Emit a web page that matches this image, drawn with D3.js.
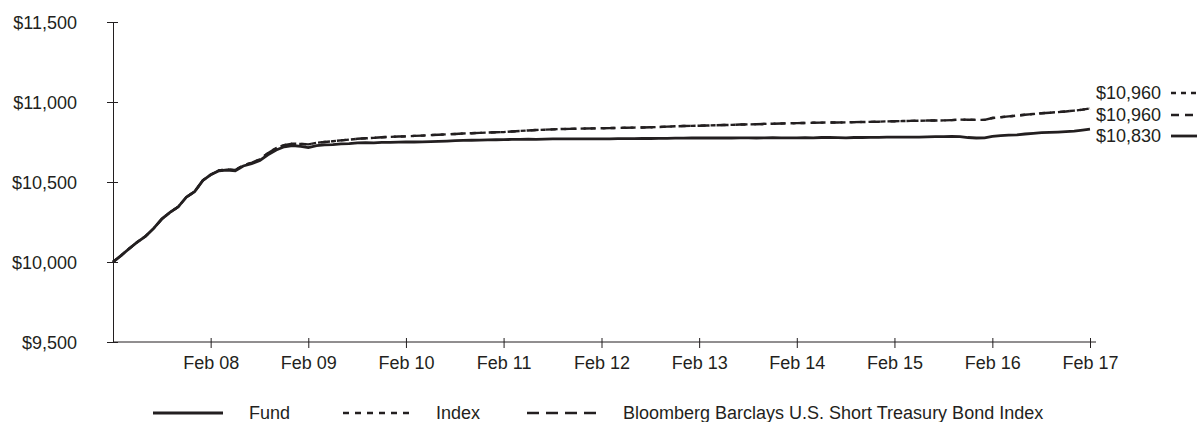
<!DOCTYPE html>
<html>
<head>
<meta charset="utf-8">
<script src="https://cdn.jsdelivr.net/npm/d3@7"></script>
<style>
  body { margin: 0; background: #fff; }
  svg { font-family: "Liberation Sans", Arial, sans-serif; }
  .axis text { font-size: 18px; fill: #231f20; font-family: "Liberation Sans", Arial, sans-serif; }
  .axis line, .axis path { stroke: #231f20; }
</style>
</head>
<body>
<svg id="chart" width="1197" height="422"></svg>
<script>
// month-end values, first point = start of the period
var fundValues = [
  10000, 10040, 10083, 10125, 10160, 10210, 10270, 10310, 10345, 10405, 10440, 10510,
  10545, 10570, 10575, 10570, 10600, 10615, 10635, 10670, 10700, 10720, 10728, 10722,
  10715, 10728, 10732, 10734, 10738, 10740, 10745, 10746, 10744, 10748, 10748, 10749,
  10750, 10750, 10751, 10752, 10754, 10756, 10758, 10760, 10761, 10762, 10763, 10764,
  10765, 10766, 10766, 10768, 10767, 10768, 10769, 10769, 10769, 10770, 10770, 10770,
  10770, 10770, 10771, 10771, 10771, 10772, 10772, 10773, 10773, 10774, 10774, 10775,
  10775, 10775, 10775, 10776, 10775, 10776, 10776, 10775, 10776, 10777, 10776, 10776,
  10776, 10777, 10776, 10778, 10778, 10777, 10776, 10778, 10778, 10779, 10779, 10780,
  10780, 10780, 10781, 10781, 10782, 10783, 10784, 10785, 10783, 10778, 10775, 10776,
  10785, 10790, 10793, 10795, 10800, 10804, 10808, 10810, 10812, 10815, 10818, 10824,
  10830
];
var indexValues = [
  10000, 10040, 10083, 10125, 10160, 10210, 10270, 10310, 10345, 10405, 10440, 10510,
  10545, 10572, 10578, 10575, 10604, 10620, 10642, 10680, 10712, 10730, 10740, 10738,
  10735, 10745, 10750, 10755, 10760, 10765, 10770, 10773, 10776, 10780, 10782, 10784,
  10785, 10788, 10790, 10793, 10795, 10798, 10800, 10803, 10805, 10807, 10809, 10811,
  10812, 10816, 10819, 10822, 10825, 10827, 10829, 10831, 10832, 10833, 10834, 10835,
  10836, 10837, 10838, 10839, 10840, 10841, 10842, 10844, 10846, 10848, 10850, 10851,
  10852, 10853, 10855, 10856, 10857, 10859, 10860, 10861, 10863, 10864, 10866, 10867,
  10868, 10869, 10870, 10871, 10872, 10872, 10873, 10874, 10875, 10876, 10877, 10879,
  10880, 10881, 10882, 10883, 10884, 10884, 10885, 10887, 10890, 10889, 10888, 10888,
  10900, 10905, 10910, 10915, 10920, 10925, 10930, 10933, 10937, 10941, 10946, 10952,
  10960
];
var bloombergValues = [
  10000, 10040, 10083, 10125, 10160, 10210, 10270, 10310, 10345, 10405, 10440, 10510,
  10545, 10572, 10578, 10575, 10604, 10620, 10642, 10680, 10712, 10730, 10740, 10738,
  10735, 10745, 10750, 10755, 10760, 10765, 10770, 10773, 10776, 10780, 10782, 10784,
  10785, 10788, 10790, 10793, 10795, 10798, 10800, 10803, 10805, 10807, 10809, 10811,
  10812, 10816, 10819, 10822, 10825, 10827, 10829, 10831, 10832, 10833, 10834, 10835,
  10836, 10837, 10838, 10839, 10840, 10841, 10842, 10844, 10846, 10848, 10850, 10851,
  10852, 10853, 10855, 10856, 10857, 10859, 10860, 10861, 10863, 10864, 10866, 10867,
  10868, 10869, 10870, 10871, 10872, 10872, 10873, 10874, 10875, 10876, 10877, 10879,
  10880, 10881, 10882, 10883, 10884, 10884, 10885, 10887, 10890, 10889, 10888, 10888,
  10900, 10905, 10910, 10915, 10920, 10925, 10930, 10933, 10937, 10941, 10946, 10952,
  10960
];
var xTickLabels = ["Feb 08", "Feb 09", "Feb 10", "Feb 11", "Feb 12", "Feb 13", "Feb 14", "Feb 15", "Feb 16", "Feb 17"];
var yTicks = [9500, 10000, 10500, 11000, 11500];
var seriesNames = ["Fund", "Index", "Bloomberg Barclays U.S. Short Treasury Bond Index"];
var endLabels = ["$10,960", "$10,960", "$10,830"];

var startDate = new Date(2007, 2, 1);
// month-end dates after the start
var dates = [startDate].concat(d3.timeMonth.range(new Date(2007, 3, 1), new Date(2017, 2, 2)).map(function (d) {
  return d3.timeDay.offset(d, -1);
}));

var ink = "#231f20";
var svg = d3.select("#chart");

var x = d3.scaleTime().domain([startDate, dates[dates.length - 1]]).range([113, 1090]);
var y = d3.scaleLinear().domain([9500, 11500]).range([342, 22]);

var tickDates = dates.filter(function (d) { return d.getMonth() === 1; });

// axes
var yAxis = svg.append("g")
  .attr("class", "axis")
  .attr("transform", "translate(113,0)")
  .call(d3.axisLeft(y).tickValues(yTicks).tickSize(6).tickSizeOuter(0).tickPadding(30)
    .tickFormat(function (d) { return "$" + d3.format(",")(d); }));
yAxis.selectAll(".tick line").attr("x1", 5);
yAxis.selectAll(".tick text").attr("dy", "0.35em");

var xAxis = svg.append("g")
  .attr("class", "axis")
  .attr("transform", "translate(0,342)")
  .call(d3.axisBottom(x).tickValues(tickDates).tickSize(6).tickSizeOuter(0).tickPadding(8)
    .tickFormat(function (d, i) { return xTickLabels[i]; }));
xAxis.select(".domain").attr("d", "M113,0H1096");
xAxis.selectAll(".tick line").attr("y1", -4);
xAxis.selectAll(".tick text").attr("dy", "0.71em");

// lines
var series = [
  { name: seriesNames[0], values: fundValues, dash: null, width: 2.8 },
  { name: seriesNames[1], values: indexValues, dash: "5,5", width: 2.4 },
  { name: seriesNames[2], values: bloombergValues, dash: "12,7", width: 2.4 }
];

var line = d3.line()
  .x(function (d, i) { return x(dates[i]); })
  .y(function (d) { return y(d); });

svg.selectAll(".series")
  .data(series.slice().reverse())
  .enter().append("path")
  .attr("class", "series")
  .attr("d", function (d) { return line(d.values); })
  .attr("fill", "none")
  .attr("stroke", ink)
  .attr("stroke-width", function (d) { return d.width; })
  .attr("stroke-dasharray", function (d) { return d.dash; });

// end-of-line value labels
var endOrder = [1, 2, 0];
var endY = [93, 115, 136];
var endDash = ["5,5", "8,6", null];
var endGroup = svg.append("g");
endOrder.forEach(function (si, k) {
  var s = series[si];
  endGroup.append("text")
    .attr("x", 1096)
    .attr("y", endY[k])
    .attr("dy", "0.35em")
    .attr("font-size", 18)
    .attr("fill", ink)
    .text(endLabels[k]);
  endGroup.append("line")
    .attr("x1", 1171).attr("x2", 1197)
    .attr("y1", endY[k]).attr("y2", endY[k])
    .attr("stroke", ink)
    .attr("stroke-width", s.width)
    .attr("stroke-dasharray", endDash[k]);
});

// legend
var legendItems = [
  { lx: 153, lw: 70, tx: 249, dash: null },
  { lx: 343, lw: 70, tx: 436, dash: "6,6" },
  { lx: 527, lw: 70, tx: 623, dash: "12,7" }
];
var legend = svg.append("g");
series.forEach(function (s, i) {
  var it = legendItems[i];
  legend.append("line")
    .attr("x1", it.lx).attr("x2", it.lx + it.lw)
    .attr("y1", 413).attr("y2", 413)
    .attr("stroke", ink)
    .attr("stroke-width", s.width)
    .attr("stroke-dasharray", it.dash);
  legend.append("text")
    .attr("x", it.tx)
    .attr("y", 413)
    .attr("dy", "0.35em")
    .attr("font-size", 18)
    .attr("fill", ink)
    .text(s.name);
});
</script>
</body>
</html>
